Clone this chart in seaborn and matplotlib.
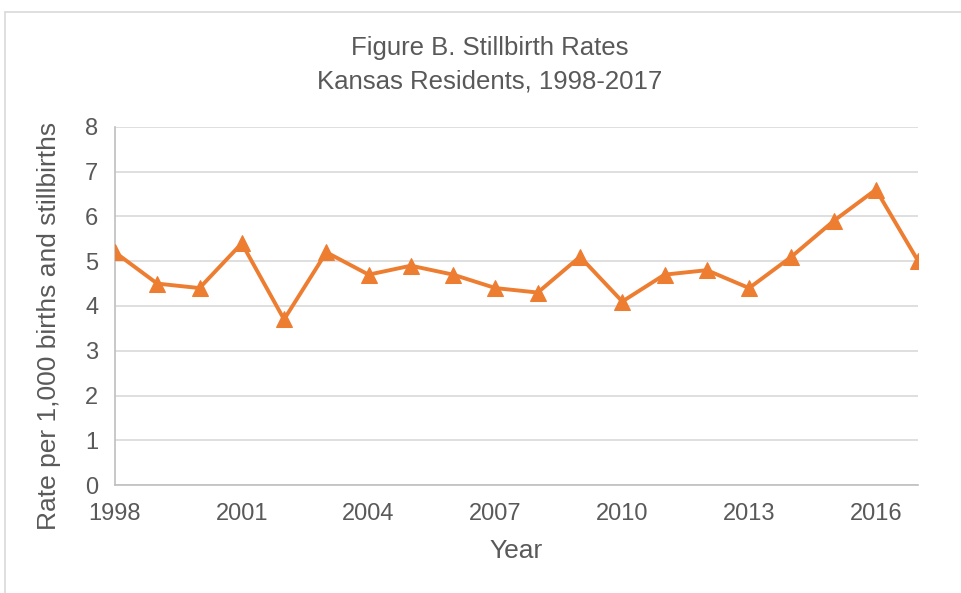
import matplotlib.pyplot as plt
import pandas as pd
import seaborn as sns
from matplotlib.lines import Line2D

# Data
years = list(range(1998, 2018))
rates = [5.2, 4.5, 4.4, 5.4, 3.7, 5.2, 4.7, 4.9, 4.7, 4.4,
         4.3, 5.1, 4.1, 4.7, 4.8, 4.4, 5.1, 5.9, 6.6, 5.0]
xticks = [1998, 2001, 2004, 2007, 2010, 2013, 2016]
yticks = [0, 1, 2, 3, 4, 5, 6, 7, 8]

df = pd.DataFrame({'year': years, 'rate': rates})

sns.set_style('white')
plt.rcParams['font.family'] = ['Liberation Sans', 'DejaVu Sans']
text_color = '#595959'
orange = '#ED7D31'

fig = plt.figure(figsize=(9.62, 5.93), dpi=100)
ax = fig.add_axes([0.1195, 0.182, 0.835, 0.604])

sns.lineplot(data=df, x='year', y='rate', ax=ax, color=orange, linewidth=2.8,
             marker='^', markersize=12, markeredgecolor=orange, zorder=3)

ax.set_xlim(1998, 2017)
ax.set_ylim(0, 8)
ax.set_xticks(xticks)
ax.set_yticks(yticks)
ax.yaxis.grid(True, color='#D9D9D9', linewidth=1.2)
ax.set_axisbelow(True)
for side in ['top', 'right']:
    ax.spines[side].set_visible(False)
ax.spines['left'].set_color('#BFBFBF')
ax.spines['bottom'].set_color('#BFBFBF')
ax.spines['left'].set_linewidth(1.2)
ax.spines['bottom'].set_linewidth(1.2)
ax.tick_params(axis='both', colors=text_color, labelsize=17, length=0)
ax.tick_params(axis='x', pad=13)
ax.tick_params(axis='y', pad=12)

ax.set_xlabel('Year', fontsize=19, color=text_color, labelpad=10)
ax.set_ylabel('Rate per 1,000 births and stillbirths', fontsize=19,
              color=text_color)
ax.yaxis.set_label_coords(-0.067, 0.444)

# title centred on the chart frame rather than the plot area
fig.text(490 / 962, 1 - 48 / 593, 'Figure B. Stillbirth Rates', ha='center', va='center',
         fontsize=18.5, color=text_color)
fig.text(490 / 962, 1 - 81 / 593, 'Kansas Residents, 1998-2017', ha='center', va='center',
         fontsize=18.5, color=text_color)

# light frame around the chart area
fig.add_artist(Line2D([5 / 962, 5 / 962], [0, 1 - 12 / 593], color='#D9D9D9', lw=1.2))
fig.add_artist(Line2D([5 / 962, 1], [1 - 12 / 593, 1 - 12 / 593], color='#D9D9D9', lw=1.2))

fig.savefig('out.png', dpi=100)
